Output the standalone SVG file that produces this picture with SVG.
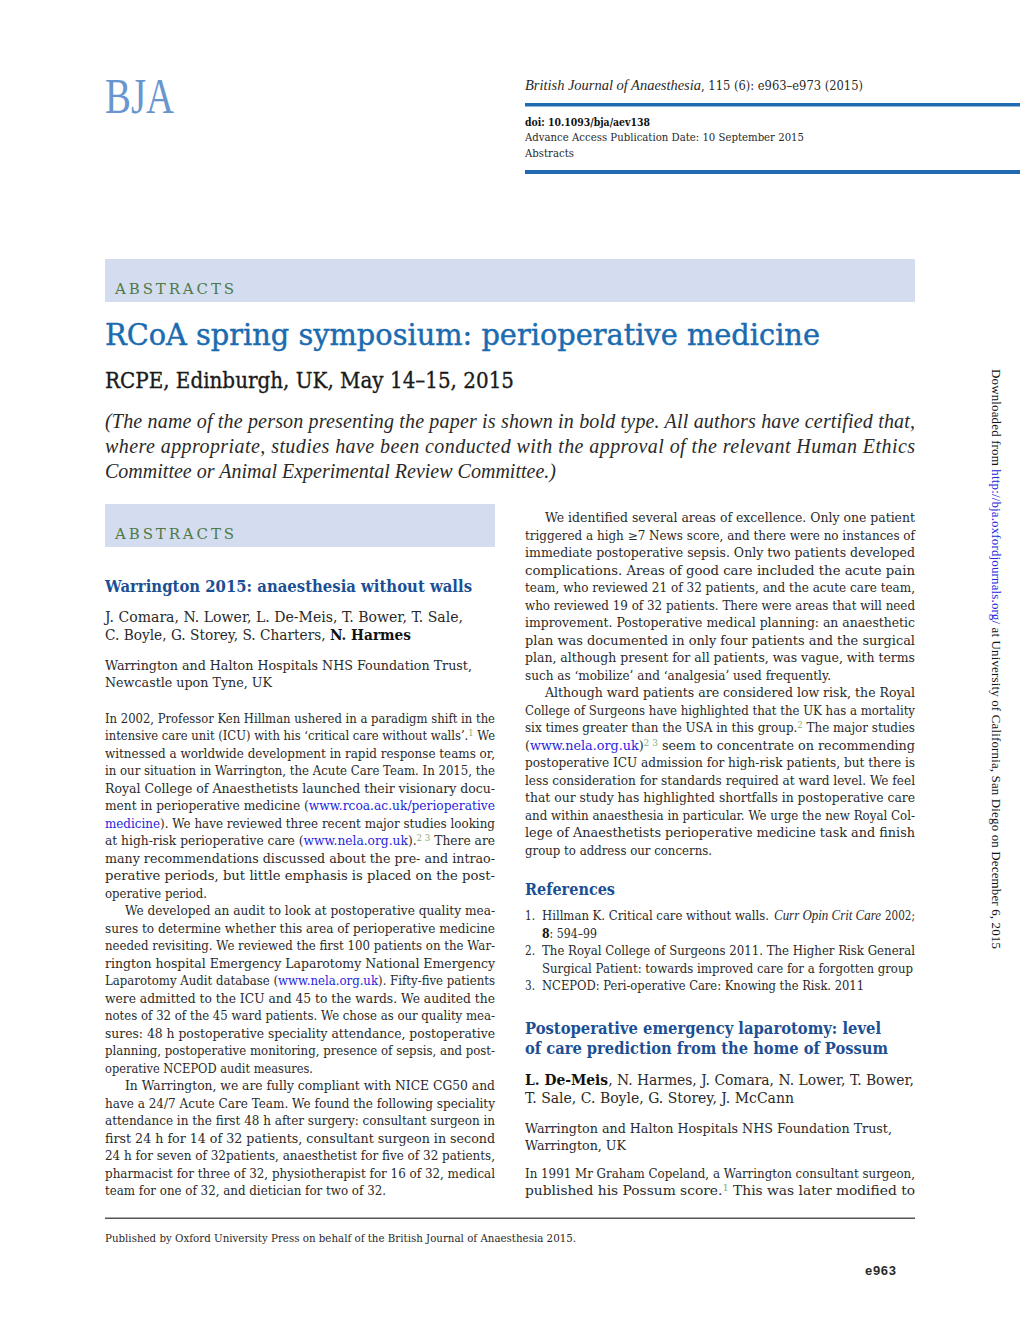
<svg xmlns="http://www.w3.org/2000/svg" width="1020" height="1318" viewBox="0 0 1020 1318">
<style>
text{font-family:"DejaVu Serif","Liberation Serif",serif;fill:#2a2a2a;white-space:pre}
.b{font-size:12px}
.h{font-size:17px;font-weight:bold;fill:#1b4f94}
.au{font-size:14.5px}
.af{font-size:12.6px}
.m{font-size:10.8px}
.g{font-size:15.5px;fill:#4f7a45;letter-spacing:3px}
.it{font-family:"Liberation Serif",serif;font-style:italic}
.l{fill:#2424dd}
.s{fill:#7fae78;font-size:8.5px}
.bd{font-weight:bold;fill:#111}
</style>
<rect width="1020" height="1318" fill="#fff"/>
<text x="105" y="113" font-size="50" textLength="69" lengthAdjust="spacingAndGlyphs" style="font-family:'Liberation Serif',serif;fill:#6a96d0">BJA</text>
<text x="525" y="90" class="it" style="font-size:14.5px" textLength="176">British Journal of Anaesthesia</text>
<text x="701" y="90" style="font-size:12.5px" textLength="162" lengthAdjust="spacingAndGlyphs">, 115 (6): e963–e973 (2015)</text>
<rect x="525" y="103" width="495" height="3.5" fill="#1f6ab0"/>
<text x="525" y="126" class="m bd" textLength="125" lengthAdjust="spacingAndGlyphs">doi: 10.1093/bja/aev138</text>
<text x="525" y="141" class="m" textLength="279" lengthAdjust="spacingAndGlyphs">Advance Access Publication Date: 10 September 2015</text>
<text x="525" y="157" class="m" textLength="49" lengthAdjust="spacingAndGlyphs">Abstracts</text>
<rect x="525" y="170" width="495" height="4" fill="#1f6ab0"/>
<rect x="105" y="259" width="810" height="43" fill="#d4dcef"/>
<text x="115" y="294" class="g" textLength="122" lengthAdjust="spacingAndGlyphs">ABSTRACTS</text>
<text x="105" y="345" textLength="715" lengthAdjust="spacingAndGlyphs" stroke="#1a6baf" stroke-width="0.45" style="font-size:30px;fill:#1a6baf">RCoA spring symposium: perioperative medicine</text>
<text x="105" y="388" textLength="409" lengthAdjust="spacingAndGlyphs" stroke="#1a1a1a" stroke-width="0.35" style="font-size:22px;fill:#1a1a1a">RCPE, Edinburgh, UK, May 14–15, 2015</text>
<g>
<text class="it" style="font-size:20px" x="105" y="428" textLength="810">(The name of the person presenting the paper is shown in bold type. All authors have certified that,</text>
<text class="it" style="font-size:20px" x="105" y="453" textLength="810">where appropriate, studies have been conducted with the approval of the relevant Human Ethics</text>
<text class="it" style="font-size:20px" x="105" y="478" textLength="451">Committee or Animal Experimental Review Committee.)</text>
</g>
<rect x="105" y="504" width="390" height="43" fill="#d4dcef"/>
<text x="115" y="539" class="g" textLength="122" lengthAdjust="spacingAndGlyphs">ABSTRACTS</text>
<text x="105" y="592" class="h" textLength="367" lengthAdjust="spacingAndGlyphs">Warrington 2015: anaesthesia without walls</text>
<text x="105" y="622" class="au" textLength="358" lengthAdjust="spacingAndGlyphs">J. Comara, N. Lower, L. De-Meis, T. Bower, T. Sale,</text>
<text x="105" y="640" class="au" textLength="306" lengthAdjust="spacingAndGlyphs">C. Boyle, G. Storey, S. Charters, <tspan class="bd">N. Harmes</tspan></text>
<text x="105" y="670" class="af" textLength="367" lengthAdjust="spacingAndGlyphs">Warrington and Halton Hospitals NHS Foundation Trust,</text>
<text x="105" y="687" class="af" textLength="167" lengthAdjust="spacingAndGlyphs">Newcastle upon Tyne, UK</text>
<g>
<text class="b" x="105" y="722.5" textLength="390" lengthAdjust="spacingAndGlyphs">In 2002, Professor Ken Hillman ushered in a paradigm shift in the</text>
<text class="b" x="105" y="740" textLength="390" lengthAdjust="spacingAndGlyphs">intensive care unit (ICU) with his ‘critical care without walls’.<tspan class="s" dy="-4">1</tspan><tspan dy="4"> We</tspan></text>
<text class="b" x="105" y="757.5" textLength="390" lengthAdjust="spacingAndGlyphs">witnessed a worldwide development in rapid response teams or,</text>
<text class="b" x="105" y="775" textLength="390" lengthAdjust="spacingAndGlyphs">in our situation in Warrington, the Acute Care Team. In 2015, the</text>
<text class="b" x="105" y="792.5" textLength="390" lengthAdjust="spacingAndGlyphs">Royal College of Anaesthetists launched their visionary docu-</text>
<text class="b" x="105" y="810" textLength="390" lengthAdjust="spacingAndGlyphs">ment in perioperative medicine (<tspan class="l">www.rcoa.ac.uk/perioperative</tspan></text>
<text class="b" x="105" y="827.5" textLength="390" lengthAdjust="spacingAndGlyphs"><tspan class="l">medicine</tspan>). We have reviewed three recent major studies looking</text>
<text class="b" x="105" y="845" textLength="390" lengthAdjust="spacingAndGlyphs">at high-risk perioperative care (<tspan class="l">www.nela.org.uk</tspan>).<tspan class="s" dy="-4">2 3</tspan><tspan dy="4"> There are</tspan></text>
<text class="b" x="105" y="862.5" textLength="390" lengthAdjust="spacingAndGlyphs">many recommendations discussed about the pre- and intrao-</text>
<text class="b" x="105" y="880" textLength="390" lengthAdjust="spacingAndGlyphs">perative periods, but little emphasis is placed on the post-</text>
<text class="b" x="105" y="897.5" textLength="102" lengthAdjust="spacingAndGlyphs">operative period.</text>
<text class="b" x="125" y="915" textLength="370" lengthAdjust="spacingAndGlyphs">We developed an audit to look at postoperative quality mea-</text>
<text class="b" x="105" y="932.5" textLength="390" lengthAdjust="spacingAndGlyphs">sures to determine whether this area of perioperative medicine</text>
<text class="b" x="105" y="950" textLength="390" lengthAdjust="spacingAndGlyphs">needed revisiting. We reviewed the first 100 patients on the War-</text>
<text class="b" x="105" y="967.5" textLength="390" lengthAdjust="spacingAndGlyphs">rington hospital Emergency Laparotomy National Emergency</text>
<text class="b" x="105" y="985" textLength="390" lengthAdjust="spacingAndGlyphs">Laparotomy Audit database (<tspan class="l">www.nela.org.uk</tspan>). Fifty-five patients</text>
<text class="b" x="105" y="1002.5" textLength="390" lengthAdjust="spacingAndGlyphs">were admitted to the ICU and 45 to the wards. We audited the</text>
<text class="b" x="105" y="1020" textLength="390" lengthAdjust="spacingAndGlyphs">notes of 32 of the 45 ward patients. We chose as our quality mea-</text>
<text class="b" x="105" y="1037.5" textLength="390" lengthAdjust="spacingAndGlyphs">sures: 48 h postoperative speciality attendance, postoperative</text>
<text class="b" x="105" y="1055" textLength="390" lengthAdjust="spacingAndGlyphs">planning, postoperative monitoring, presence of sepsis, and post-</text>
<text class="b" x="105" y="1072.5" textLength="208" lengthAdjust="spacingAndGlyphs">operative NCEPOD audit measures.</text>
<text class="b" x="125" y="1090" textLength="370" lengthAdjust="spacingAndGlyphs">In Warrington, we are fully compliant with NICE CG50 and</text>
<text class="b" x="105" y="1107.5" textLength="390" lengthAdjust="spacingAndGlyphs">have a 24/7 Acute Care Team. We found the following speciality</text>
<text class="b" x="105" y="1125" textLength="390" lengthAdjust="spacingAndGlyphs">attendance in the first 48 h after surgery: consultant surgeon in</text>
<text class="b" x="105" y="1142.5" textLength="390" lengthAdjust="spacingAndGlyphs">first 24 h for 14 of 32 patients, consultant surgeon in second</text>
<text class="b" x="105" y="1160" textLength="390" lengthAdjust="spacingAndGlyphs">24 h for seven of 32patients, anaesthetist for five of 32 patients,</text>
<text class="b" x="105" y="1177.5" textLength="390" lengthAdjust="spacingAndGlyphs">pharmacist for three of 32, physiotherapist for 16 of 32, medical</text>
<text class="b" x="105" y="1195" textLength="281" lengthAdjust="spacingAndGlyphs">team for one of 32, and dietician for two of 32.</text>
</g>
<g>
<text class="b" x="545" y="522" textLength="370" lengthAdjust="spacingAndGlyphs">We identified several areas of excellence. Only one patient</text>
<text class="b" x="525" y="539.5" textLength="390" lengthAdjust="spacingAndGlyphs">triggered a high ≥7 News score, and there were no instances of</text>
<text class="b" x="525" y="557" textLength="390" lengthAdjust="spacingAndGlyphs">immediate postoperative sepsis. Only two patients developed</text>
<text class="b" x="525" y="574.5" textLength="390" lengthAdjust="spacingAndGlyphs">complications. Areas of good care included the acute pain</text>
<text class="b" x="525" y="592" textLength="390" lengthAdjust="spacingAndGlyphs">team, who reviewed 21 of 32 patients, and the acute care team,</text>
<text class="b" x="525" y="609.5" textLength="390" lengthAdjust="spacingAndGlyphs">who reviewed 19 of 32 patients. There were areas that will need</text>
<text class="b" x="525" y="627" textLength="390" lengthAdjust="spacingAndGlyphs">improvement. Postoperative medical planning: an anaesthetic</text>
<text class="b" x="525" y="644.5" textLength="390" lengthAdjust="spacingAndGlyphs">plan was documented in only four patients and the surgical</text>
<text class="b" x="525" y="662" textLength="390" lengthAdjust="spacingAndGlyphs">plan, although present for all patients, was vague, with terms</text>
<text class="b" x="525" y="679.5" textLength="306" lengthAdjust="spacingAndGlyphs">such as ‘mobilize’ and ‘analgesia’ used frequently.</text>
<text class="b" x="545" y="697" textLength="370" lengthAdjust="spacingAndGlyphs">Although ward patients are considered low risk, the Royal</text>
<text class="b" x="525" y="714.5" textLength="390" lengthAdjust="spacingAndGlyphs">College of Surgeons have highlighted that the UK has a mortality</text>
<text class="b" x="525" y="732" textLength="390" lengthAdjust="spacingAndGlyphs">six times greater than the USA in this group.<tspan class="s" dy="-4">2</tspan><tspan dy="4"> The major studies</tspan></text>
<text class="b" x="525" y="749.5" textLength="390" lengthAdjust="spacingAndGlyphs">(<tspan class="l">www.nela.org.uk</tspan>)<tspan class="s" dy="-4">2 3</tspan><tspan dy="4"> seem to concentrate on recommending</tspan></text>
<text class="b" x="525" y="767" textLength="390" lengthAdjust="spacingAndGlyphs">postoperative ICU admission for high-risk patients, but there is</text>
<text class="b" x="525" y="784.5" textLength="390" lengthAdjust="spacingAndGlyphs">less consideration for standards required at ward level. We feel</text>
<text class="b" x="525" y="802" textLength="390" lengthAdjust="spacingAndGlyphs">that our study has highlighted shortfalls in postoperative care</text>
<text class="b" x="525" y="819.5" textLength="390" lengthAdjust="spacingAndGlyphs">and within anaesthesia in particular. We urge the new Royal Col-</text>
<text class="b" x="525" y="837" textLength="390" lengthAdjust="spacingAndGlyphs">lege of Anaesthetists perioperative medicine task and finish</text>
<text class="b" x="525" y="854.5" textLength="187" lengthAdjust="spacingAndGlyphs">group to address our concerns.</text>
</g>
<text x="525" y="895" class="h" textLength="90" lengthAdjust="spacingAndGlyphs">References</text>
<text class="b" x="525" y="920" textLength="10" lengthAdjust="spacingAndGlyphs">1.</text>
<text class="b" x="542" y="920" textLength="227" lengthAdjust="spacingAndGlyphs">Hillman K. Critical care without walls.</text>
<text class="it" style="font-size:14.5px" x="774" y="920" textLength="107" lengthAdjust="spacingAndGlyphs">Curr Opin Crit Care</text>
<text class="b" x="885" y="920" textLength="30" lengthAdjust="spacingAndGlyphs">2002;</text>
<text class="b" x="542" y="937.5" textLength="55" lengthAdjust="spacingAndGlyphs"><tspan class="bd">8</tspan>: 594–99</text>
<text class="b" x="525" y="955" textLength="10" lengthAdjust="spacingAndGlyphs">2.</text>
<text class="b" x="542" y="955" textLength="373" lengthAdjust="spacingAndGlyphs">The Royal College of Surgeons 2011. The Higher Risk General</text>
<text class="b" x="542" y="972.5" textLength="371" lengthAdjust="spacingAndGlyphs">Surgical Patient: towards improved care for a forgotten group</text>
<text class="b" x="525" y="990" textLength="10" lengthAdjust="spacingAndGlyphs">3.</text>
<text class="b" x="542" y="990" textLength="322" lengthAdjust="spacingAndGlyphs">NCEPOD: Peri-operative Care: Knowing the Risk. 2011</text>
<text x="525" y="1034" class="h" textLength="356" lengthAdjust="spacingAndGlyphs">Postoperative emergency laparotomy: level</text>
<text x="525" y="1054" class="h" textLength="363" lengthAdjust="spacingAndGlyphs">of care prediction from the home of Possum</text>
<text x="525" y="1085" class="au" textLength="389" lengthAdjust="spacingAndGlyphs"><tspan class="bd">L. De-Meis</tspan>, N. Harmes, J. Comara, N. Lower, T. Bower,</text>
<text x="525" y="1103" class="au" textLength="269" lengthAdjust="spacingAndGlyphs">T. Sale, C. Boyle, G. Storey, J. McCann</text>
<text x="525" y="1133" class="af" textLength="367" lengthAdjust="spacingAndGlyphs">Warrington and Halton Hospitals NHS Foundation Trust,</text>
<text x="525" y="1150" class="af" textLength="101" lengthAdjust="spacingAndGlyphs">Warrington, UK</text>
<text class="b" x="525" y="1178" textLength="390" lengthAdjust="spacingAndGlyphs">In 1991 Mr Graham Copeland, a Warrington consultant surgeon,</text>
<text class="b" x="525" y="1195" textLength="390" lengthAdjust="spacingAndGlyphs">published his Possum score.<tspan class="s" dy="-4">1</tspan><tspan dy="4"> This was later modified to</tspan></text>
<rect x="105" y="1217.5" width="810" height="1.5" fill="#555"/>
<text x="105" y="1242" class="m" textLength="471" lengthAdjust="spacingAndGlyphs">Published by Oxford University Press on behalf of the British Journal of Anaesthesia 2015.</text>
<text x="865" y="1275" textLength="31" style="font-family:'Liberation Sans',sans-serif;font-size:13px;font-weight:bold">e963</text>
<text transform="translate(992 369) rotate(90)" textLength="580" style="font-family:'Liberation Serif',serif;font-size:13px;fill:#111">Downloaded from <tspan class="l">http://bja.oxfordjournals.org/</tspan> at University of California, San Diego on December 6, 2015</text>
</svg>
